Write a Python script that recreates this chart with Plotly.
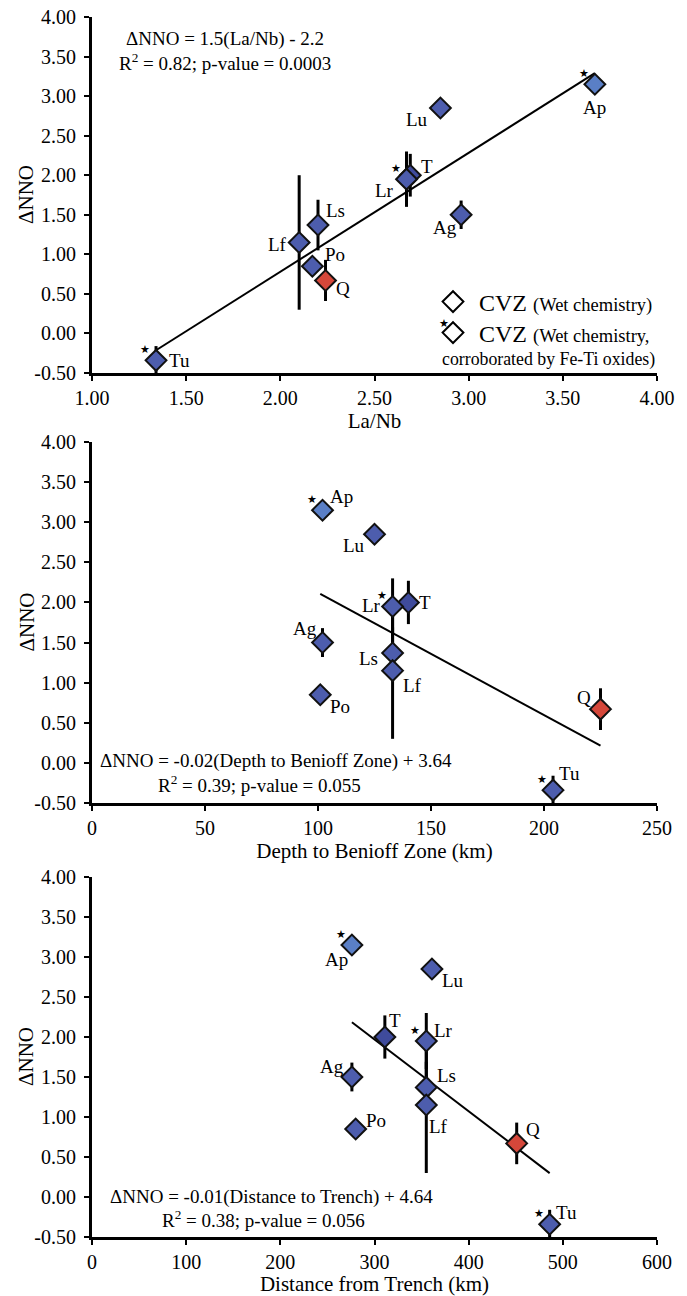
import numpy as np
import plotly.graph_objects as go

# ---------------- data ----------------
names = ["Ap", "Lu", "T", "Lr", "Ag", "Ls", "Lf", "Po", "Q", "Tu"]
la_nb = [3.67, 2.85, 2.69, 2.67, 2.96, 2.20, 2.10, 2.17, 2.24, 1.34]
depth_km = [102, 125, 140, 133, 102, 133, 133, 101, 225, 204]
distance_km = [276, 361, 311, 355, 276, 355, 355, 280, 451, 486]
dnno = [3.15, 2.85, 2.00, 1.95, 1.50, 1.37, 1.15, 0.85, 0.67, -0.34]
dnno_err = [0, 0, 0.27, 0.35, 0.18, 0.32, 0.85, 0, 0.26, 0.18]
fe_ti = [True, False, False, True, False, False, False, False, False, True]
kind = ["light", "std", "dark", "std", "std", "std", "std", "std", "q", "std"]

y_tickvals = [-0.5, 0.0, 0.5, 1.0, 1.5, 2.0, 2.5, 3.0, 3.5, 4.0]
y_ticktext = ["-0.50", "0.00", "0.50", "1.00", "1.50", "2.00", "2.50", "3.00", "3.50", "4.00"]

eq_texts = [
    ["ΔNNO = 1.5(La/Nb) - 2.2", "R<sup>2</sup> = 0.82; p-value = 0.0003"],
    ["ΔNNO = -0.02(Depth to Benioff Zone) + 3.64", "R<sup>2</sup> = 0.39; p-value = 0.055"],
    ["ΔNNO = -0.01(Distance to Trench) + 4.64", "R<sup>2</sup> = 0.38; p-value = 0.056"],
]
x_titles = ["La/Nb", "Depth to Benioff Zone (km)", "Distance from Trench (km)"]
y_title = "ΔNNO"
legend_main = ["CVZ", "CVZ"]
legend_sub = ["(Wet chemistry)", "(Wet chemistry,"]
legend_line2 = "corroborated by Fe-Ti oxides)"

# ---------------- style ----------------
FONT = "Liberation Serif, Times New Roman, serif"
colors = {"std": "#4D5DAD", "light": "#5A7FC6", "dark": "#3F4B9C", "q": "#D5473A"}

label_off = [
    {"Ap": (0, 23), "Lu": (-23, 12), "T": (17, -9), "Lr": (-22, 11), "Ag": (-16, 13),
     "Ls": (17, -15), "Lf": (-22, 2), "Po": (23, -12), "Q": (17, 8), "Tu": (23, 0)},
    {"Ap": (19, -14), "Lu": (-21, 11), "Lr": (-21, -1), "T": (17, 0), "Ag": (-18, -14),
     "Ls": (-24, 6), "Lf": (20, 15), "Po": (20, 12), "Q": (-17, -12), "Tu": (16, -17)},
    {"Ap": (-15, 14), "Lu": (21, 11), "T": (10, -17), "Lr": (17, -11), "Ag": (-20, -11),
     "Ls": (20, -12), "Lf": (12, 21), "Po": (20, -9), "Q": (16, -14), "Tu": (17, -12)},
]
star_off = (-11, -11)

eq_pos = [
    [(0.235, 0.938), (0.235, 0.874)],
    [(0.326, 0.116), (0.297, 0.053)],
    [(0.317, 0.111), (0.304, 0.050)],
]

# page body has an 8px margin; figure is sized/offset to compensate
OFF = 8
W, H = 687 - OFF, 1296 - OFF
L, T = 92 - OFF, 17 - OFF
PW = 565
PH = 1220
R = W - L - PW
B = H - T - PH


def py(px):  # reference-picture y pixel -> paper fraction
    return 1 - (px - 17) / PH


def pxx(px):  # reference-picture x pixel -> paper fraction
    return (px - 92) / PW


domains = [[py(373), 1.0], [py(803), py(442)], [0.0, py(877)]]
x_ranges = [[1, 4], [0, 250], [0, 600]]
x_dticks = [0.5, 50, 100]
x_formats = [".2f", "d", "d"]

xs_all = [la_nb, depth_km, distance_km]

fig = go.Figure()

for i in range(3):
    xa = "x" if i == 0 else f"x{i+1}"
    ya = "y" if i == 0 else f"y{i+1}"
    xv = np.array(xs_all[i], dtype=float)
    yv = np.array(dnno, dtype=float)
    slope, icpt = np.polyfit(xv, yv, 1)
    lx = np.array([xv.min(), xv.max()])
    fig.add_trace(go.Scatter(x=lx, y=slope * lx + icpt, mode="lines",
                             line=dict(color="black", width=2),
                             xaxis=xa, yaxis=ya, showlegend=False, hoverinfo="skip"))
    fig.add_trace(go.Scatter(
        x=xv, y=yv, mode="markers", xaxis=xa, yaxis=ya, showlegend=False,
        text=names,
        marker=dict(symbol="diamond", size=16, color=[colors[k] for k in kind],
                    line=dict(color="#111111", width=2)),
        error_y=dict(type="data", array=dnno_err, visible=True, color="black",
                     thickness=3, width=0),
    ))
    xref = "x" if i == 0 else f"x{i+1}"
    yref = "y" if i == 0 else f"y{i+1}"
    for n, xx, yy, ft in zip(names, xv, yv, fe_ti):
        dx, dy = label_off[i][n]
        fig.add_annotation(x=xx, y=yy, xref=xref, yref=yref, text=n, showarrow=False,
                           xanchor="center", yanchor="middle",
                           xshift=dx, yshift=-dy, font=dict(family=FONT, size=19, color="black"))
        if ft:
            fig.add_annotation(x=xx, y=yy, xref=xref, yref=yref, text="★", showarrow=False,
                               xanchor="center", yanchor="middle",
                               xshift=star_off[0], yshift=-star_off[1],
                               font=dict(family="DejaVu Sans", size=11, color="black"))
    for (ex, ey), t in zip(eq_pos[i], eq_texts[i]):
        fig.add_annotation(x=ex, y=ey, xref=f"{xref} domain", yref=f"{yref} domain",
                           xanchor="center", yanchor="middle",
                           text=t, showarrow=False,
                           font=dict(family=FONT, size=19, color="black"))
    # y-axis title
    fig.add_annotation(x=pxx(26), y=0.5, xref="paper", yref=f"{yref} domain",
                       xanchor="center", yanchor="middle", textangle=-90,
                       text=y_title, showarrow=False,
                       font=dict(family=FONT, size=21, color="black"))
    axis_common = dict(showline=True, linewidth=3, linecolor="black", ticks="outside",
                       ticklen=5, tickwidth=2, tickcolor="black", showgrid=False,
                       zeroline=False, automargin=False, ticklabeloverflow="allow",
                       tickfont=dict(family=FONT, size=20, color="black"))
    fig.update_layout(**{
        ("xaxis" if i == 0 else f"xaxis{i+1}"): dict(
            axis_common, range=x_ranges[i], dtick=x_dticks[i], tickformat=x_formats[i],
            anchor=ya, ticklabelstandoff=0,
            title=dict(text=x_titles[i], font=dict(family=FONT, size=21, color="black"), standoff=0)),
        ("yaxis" if i == 0 else f"yaxis{i+1}"): dict(
            axis_common, range=[-0.5, 4.0], tickmode="array", tickvals=y_tickvals,
            ticktext=y_ticktext, domain=domains[i], anchor=xa, ticklabelstandoff=4),
    })

# legend entries (no data points)
for j in range(2):
    fig.add_trace(go.Scatter(
        x=[None], y=[None], mode="markers", xaxis="x", yaxis="y",
        name=f"{legend_main[j]} <span style='font-size:18.5px'>{legend_sub[j]}</span>",
        marker=dict(symbol="diamond", size=16, color="white", line=dict(color="black", width=2)),
        legend="legend" if j == 0 else "legend2", showlegend=True))

leg_common = dict(font=dict(family=FONT, size=24, color="black"), bgcolor="rgba(0,0,0,0)",
                  itemwidth=42, xanchor="left", yanchor="middle", borderwidth=0)
fig.update_layout(
    legend=dict(leg_common, x=pxx(427), y=py(302)),
    legend2=dict(leg_common, x=pxx(427), y=py(333)),
)
fig.add_annotation(x=pxx(657), y=py(359), xref="paper", yref="paper",
                   xanchor="right", yanchor="middle", text=legend_line2, showarrow=False,
                   font=dict(family=FONT, size=17.8, color="black"))
fig.add_annotation(x=pxx(444), y=py(323), xref="paper", yref="paper",
                   xanchor="center", yanchor="middle",
                   text="★", showarrow=False, font=dict(family="DejaVu Sans", size=11, color="black"))

fig.update_layout(width=W, height=H, margin=dict(l=L, r=R, t=T, b=B, autoexpand=False),
                  plot_bgcolor="white", paper_bgcolor="white",
                  font=dict(family=FONT, color="black"))

fig.write_html("out.html")
